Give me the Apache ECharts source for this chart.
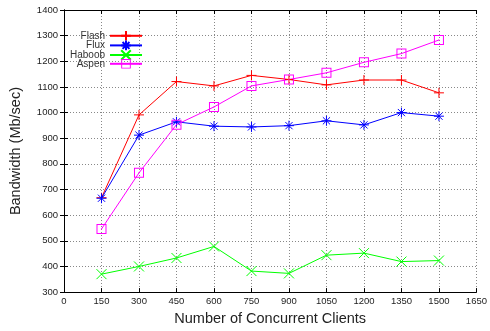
<!DOCTYPE html>
<html>
<head>
<meta charset="utf-8">
<script src="https://cdn.jsdelivr.net/npm/echarts@6/dist/echarts.min.js"></script>
<style>html,body{margin:0;padding:0;background:#fff}#c{width:490px;height:331px}</style>
</head>
<body>
<div id="c"></div>
<script>
const clients = [150, 300, 450, 600, 750, 900, 1050, 1200, 1350, 1500];
const flash  = [668, 991, 1121, 1104, 1145, 1129, 1108, 1127, 1127, 1077];
const flux   = [666, 912, 964, 947, 944, 949, 968, 952, 1000, 986];
const haboob = [370, 400, 433, 478, 382, 373, 444, 452, 419, 423];
const aspen  = [546, 765, 953, 1022, 1104, 1129, 1155, 1196, 1230, 1283];
const seriesNames = ['Flash', 'Flux', 'Haboob', 'Aspen'];

const FONT = 'Liberation Sans, Arial, Helvetica, sans-serif';
const SYM_PLUS = 'path://M0,-5L0,5M-5,0L5,0';
const SYM_STAR = 'path://M0,-5L0,5M-5,0L5,0M-3.6,-3.6L3.6,3.6M-3.6,3.6L3.6,-3.6';
const SYM_X = 'path://M-5,-5L5,5M-5,5L5,-5';
const SYM_SQ = 'path://M-5,-5h10v10h-10zM-4,-4v8h8v-8zM-0.5,-0.5h1v1h-1z';

function pts(arr) { return clients.map((c, i) => [c, arr[i]]); }
function mk(name, arr, color, sym, stroke) {
  return {
    name: name, type: 'line', data: pts(arr), symbol: sym, symbolSize: 10,
    showAllSymbol: true, animation: false,
    lineStyle: { color: color, width: 1 },
    itemStyle: stroke ? { color: color, borderColor: color, borderWidth: 1 } : { color: color, borderWidth: 0 },
    emphasis: { disabled: true }
  };
}

const chart = echarts.init(document.getElementById('c'), null, { renderer: 'canvas' });
const tickStyle = { show: true, inside: true, length: 4, lineStyle: { color: '#000', width: 1 } };
const axisLine = { show: true, lineStyle: { color: '#000', width: 1 } };
const plain = v => String(v);
chart.setOption({
  animation: false,
  backgroundColor: '#fff',
  grid: { left: 60, right: 9, top: 10, bottom: 34, containLabel: false },
  legend: {
    orient: 'vertical', left: 64, top: 25, align: 'right',
    itemWidth: 32, itemHeight: 12, itemGap: -2,
    data: seriesNames,
    textStyle: { fontFamily: FONT, fontSize: 10, color: '#333', width: 36, lineHeight: 10 },
    selectedMode: false
  },
  xAxis: [{
    type: 'value', min: 0, max: 1650, interval: 150, position: 'bottom',
    axisLine: axisLine, axisTick: tickStyle,
    axisLabel: { fontFamily: FONT, fontSize: 9.5, color: '#222', margin: 4, formatter: plain },
    splitLine: { show: true, lineStyle: { color: '#888', type: [1, 2], width: 1 } },
    name: 'Number of Concurrent Clients', nameLocation: 'middle', nameGap: 14,
    nameTextStyle: { fontFamily: FONT, fontSize: 14.5, color: '#222' }
  }, {
    type: 'value', min: 0, max: 1650, interval: 150, position: 'top',
    axisLine: axisLine, axisTick: tickStyle, axisLabel: { show: false }, splitLine: { show: false }
  }],
  yAxis: [{
    type: 'value', min: 300, max: 1400, interval: 100, position: 'left',
    axisLine: axisLine, axisTick: tickStyle,
    axisLabel: { fontFamily: FONT, fontSize: 9.5, color: '#222', margin: 6, formatter: plain },
    splitLine: { show: true, lineStyle: { color: '#888', type: [1, 2], width: 1 } },
    name: 'Bandwidth (Mb/sec)', nameLocation: 'middle', nameGap: 41, nameRotate: 90,
    nameTextStyle: { fontFamily: FONT, fontSize: 14.5, color: '#222' }
  }, {
    type: 'value', min: 300, max: 1400, interval: 100, position: 'right',
    axisLine: axisLine, axisTick: tickStyle, axisLabel: { show: false }, splitLine: { show: false }
  }],
  series: [
    mk('Flash', flash, '#ff0000', SYM_PLUS, true),
    mk('Flux', flux, '#0000ff', SYM_STAR, true),
    mk('Haboob', haboob, '#00ff00', SYM_X, true),
    mk('Aspen', aspen, '#ff00ff', SYM_SQ, false)
  ]
});
</script>
</body>
</html>
